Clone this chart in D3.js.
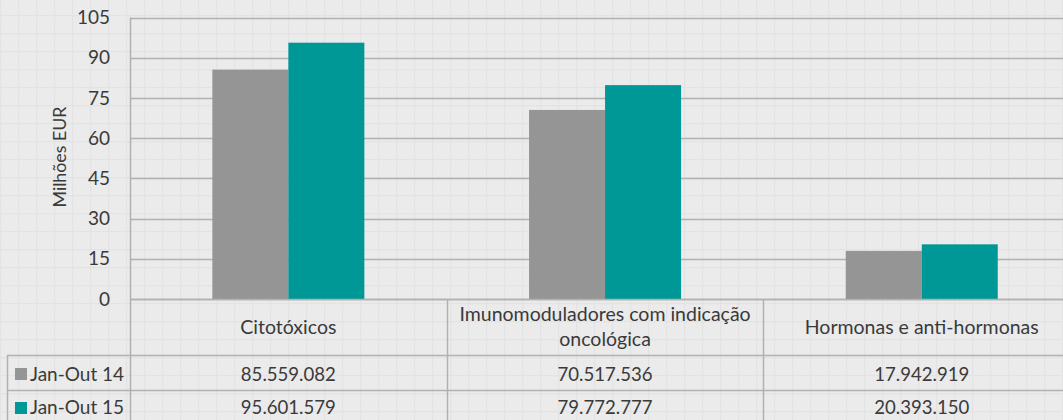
<!DOCTYPE html>
<html lang="pt">
<head>
    <meta charset="UTF-8">
    <script src="https://d3js.org/d3.v7.min.js"></script>
    <title>Citotóxicos e hormonas</title>
    <style>
        body { margin: 0; background: #ebebeb; }
        text { font-family: Lato, "Noto Sans", sans-serif; fill: #3a3a3a; }
    </style>
</head>
<body>
<script>

    // data (millions of EUR)
    var categories = ["Citotóxicos", "Imunomoduladores com indicação oncológica", "Hormonas e anti-hormonas"];
    var catLines = [["Citotóxicos"], ["Imunomoduladores com indicação", "oncológica"], ["Hormonas e anti-hormonas"]];
    var seriesNames = ["Jan-Out 14", "Jan-Out 15"];
    var values14 = [85.559082, 70.517536, 17.942919];
    var values15 = [95.601579, 79.772777, 20.393150];
    var tableLabels14 = ["85.559.082", "70.517.536", "17.942.919"];
    var tableLabels15 = ["95.601.579", "79.772.777", "20.393.150"];
    var yTicks = [0, 15, 30, 45, 60, 75, 90, 105];

    var width = 1063, height = 420;
    var colors = ["#959595", "#009896"];
    var lineColor = "#b1b1b1";

    var svg = d3.select("body").append("svg")
        .attr("width", width)
        .attr("height", height);

    // background cell grid, like a spreadsheet
    var defs = svg.append("defs");
    var pat = defs.append("pattern")
        .attr("id", "cells")
        .attr("patternUnits", "userSpaceOnUse")
        .attr("width", 18).attr("height", 18)
        .attr("x", 0).attr("y", -3);
    pat.append("rect").attr("width", 18).attr("height", 18).attr("fill", "#ebebeb");
    pat.append("path").attr("d", "M0,0.5H18M0.5,0V18")
        .attr("stroke", "#e3e3e3").attr("stroke-width", 1.5);
    svg.append("rect").attr("width", width).attr("height", height).attr("fill", "url(#cells)");

    var plotLeft = 130, plotTop = 17.5, plotBottom = 299;
    var bandW = 316.7;

    var x0 = d3.scaleBand()
        .domain(categories)
        .range([plotLeft, plotLeft + bandW * 3])
        .padding(0);

    var x1 = d3.scaleBand()
        .domain(seriesNames)
        .range([bandW * 0.26, bandW * 0.74])
        .padding(0);

    var y = d3.scaleLinear()
        .domain([0, 105])
        .range([plotBottom, plotTop]);

    // gridlines
    svg.append("g").selectAll("line")
        .data(yTicks)
        .enter().append("line")
        .attr("x1", plotLeft).attr("x2", width)
        .attr("y1", function(d) { return Math.round(y(d)) + 0.5; })
        .attr("y2", function(d) { return Math.round(y(d)) + 0.5; })
        .attr("stroke", lineColor)
        .attr("stroke-width", 1.5);

    // y axis labels
    var yAxis = d3.axisLeft(y).tickValues(yTicks).tickSize(0).tickPadding(20);
    var ay = svg.append("g")
        .attr("transform", "translate(" + plotLeft + ",0)")
        .call(yAxis);
    ay.select(".domain").remove();
    ay.selectAll("text")
        .style("font-size", "19px")
        .attr("fill", "#3a3a3a")
        .style("font-family", "Lato, 'Noto Sans', sans-serif");

    svg.append("text")
        .attr("transform", "translate(66,157) rotate(-90)")
        .attr("text-anchor", "middle")
        .style("font-size", "17.8px")
        .text("Milhões EUR");

    // bars
    var rows = categories.map(function(c, i) {
        return { cat: c, vals: [values14[i], values15[i]] };
    });

    var groups = svg.append("g").selectAll("g")
        .data(rows)
        .enter().append("g")
        .attr("transform", function(d) { return "translate(" + x0(d.cat) + ",0)"; });

    groups.selectAll("rect")
        .data(function(d) { return d.vals.map(function(v, j) { return { s: seriesNames[j], v: v, j: j }; }); })
        .enter().append("rect")
        .attr("x", function(d) { return x1(d.s); })
        .attr("y", function(d) { return y(d.v); })
        .attr("width", x1.bandwidth())
        .attr("height", function(d) { return y(0) - y(d.v); })
        .attr("fill", function(d) { return colors[d.j]; });

    // data table
    var row1 = 355.5, row2 = 390.5;
    var tbl = svg.append("g").attr("stroke", lineColor).attr("stroke-width", 1.5);
    tbl.append("line").attr("x1", plotLeft).attr("x2", width).attr("y1", plotBottom + 0.5).attr("y2", plotBottom + 0.5);
    tbl.append("line").attr("x1", 7).attr("x2", width).attr("y1", row1).attr("y2", row1);
    tbl.append("line").attr("x1", 7).attr("x2", width).attr("y1", row2).attr("y2", row2);
    tbl.append("line").attr("x1", 7.5).attr("x2", 7.5).attr("y1", row1).attr("y2", height);
    tbl.append("line").attr("x1", plotLeft + 0.5).attr("x2", plotLeft + 0.5).attr("y1", plotTop).attr("y2", height);
    categories.slice(1).forEach(function(c) {
        var xx = Math.round(x0(c)) + 0.5;
        tbl.append("line").attr("x1", xx).attr("x2", xx).attr("y1", plotBottom).attr("y2", height);
    });

    // category labels
    catLines.forEach(function(lines, i) {
        var cx = x0(categories[i]) + bandW / 2;
        var startY = lines.length === 1 ? 334 : 321;
        lines.forEach(function(t, k) {
            svg.append("text")
                .attr("x", cx).attr("y", startY + k * 25)
                .attr("text-anchor", "middle")
                .style("font-size", "19.5px")
                .text(t);
        });
    });

    // values and legend keys
    [tableLabels14, tableLabels15].forEach(function(labels, j) {
        labels.forEach(function(t, i) {
            svg.append("text")
                .attr("x", x0(categories[i]) + bandW / 2)
                .attr("y", j === 0 ? 381 : 414)
                .attr("text-anchor", "middle")
                .style("font-size", "18.6px")
                .text(t);
        });
        svg.append("rect")
            .attr("x", 15).attr("y", j === 0 ? 368 : 402)
            .attr("width", 12).attr("height", 12)
            .attr("fill", colors[j]);
        svg.append("text")
            .attr("x", 30).attr("y", j === 0 ? 381 : 414)
            .style("font-size", "19px")
            .text(seriesNames[j]);
    });

</script>
</body>
</html>
